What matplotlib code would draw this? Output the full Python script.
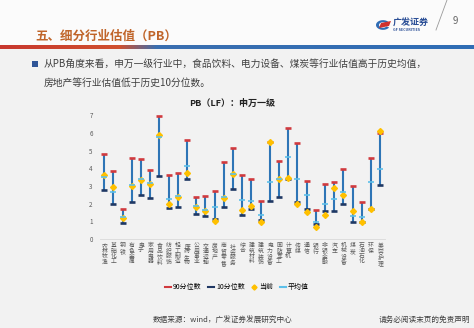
import numpy as np
import matplotlib
matplotlib.use("Agg")
import matplotlib.pyplot as plt
from matplotlib.lines import Line2D
from matplotlib.patches import Rectangle, Wedge, Polygon

plt.rcParams['font.family'] = ['Noto Sans CJK SC', 'DejaVu Sans']

# Shenwan level-1 industries, PB (LF)
industries = ["农林牧渔", "基础化工", "钢铁", "有色金属", "电子", "家用电器", "食品饮料",
              "纺织服饰", "轻工制造", "医药生物", "公用事业", "交通运输", "房地产", "商贸零售",
              "社会服务", "综合", "建筑材料", "建筑装饰", "电力设备", "国防军工", "计算机",
              "传媒", "通信", "银行", "非银金融", "汽车", "机械设备", "煤炭", "石油石化",
              "环保", "美容护理"]
p90 = [4.78, 3.86, 1.71, 4.56, 4.54, 3.90, 6.97, 3.60, 3.75, 5.61, 2.36, 2.43, 2.71, 4.33,
       5.16, 3.60, 3.37, 2.16, 5.50, 4.39, 6.25, 5.41, 3.26, 1.66, 3.11, 3.22, 3.95, 2.98,
       2.11, 4.56, 6.00]
p10 = [2.77, 2.00, 0.89, 2.07, 2.50, 2.33, 3.56, 1.73, 1.79, 3.37, 1.43, 1.32, 1.13, 1.83,
       2.84, 1.36, 1.71, 1.05, 2.16, 2.39, 3.41, 2.07, 1.69, 0.85, 1.60, 1.58, 2.00, 0.96,
       0.98, 1.72, 3.07]
current = [3.60, 2.94, 1.19, 3.01, 3.33, 3.10, 5.85, 1.98, 2.37, 3.75, 1.83, 1.60, 1.00, 2.30,
           3.67, 1.66, 1.86, 0.98, 5.50, 3.41, 3.45, 1.96, 1.51, 0.66, 1.36, 2.86, 2.50, 1.58,
           0.94, 1.69, 6.12]
mean = [3.52, 2.66, 1.22, 3.05, 3.41, 3.14, 5.78, 2.26, 2.43, 4.14, 1.86, 1.63, 1.83, 2.40,
        3.67, 2.20, 2.15, 1.36, 3.24, 3.40, 4.65, 3.41, 2.50, 0.94, 2.00, 2.28, 2.66, 1.30,
        1.26, 3.24, 3.95]
yticks = [0, 1, 2, 3, 4, 5, 6, 7]

W, H = 474, 328
BG = "#F2F2F2"
RED = "#D03A3E"
NAVY = "#1F3864"
BAR = "#2E75B6"
GOLD = "#FFC000"
LIGHT = "#5DC0EA"


def fx(px):
    return px / W


def fy(py):
    return 1 - py / H


fig = plt.figure(figsize=(W / 100, H / 100), dpi=100, facecolor=BG)

# header band
fig.patches.append(Rectangle((0, fy(45)), 1, 45 / H, transform=fig.transFigure,
                             facecolor="#FBFBFB", edgecolor="none", zorder=0))
grad = fig.add_axes([0, fy(49), 1, 4 / H])
cm = matplotlib.colors.LinearSegmentedColormap.from_list(
    "band", [(0, "#C8382E"), (0.25, "#D0502E"), (0.33, "#3A6FB0"), (1, "#2F6DB5")])
grad.imshow(np.linspace(0, 1, 400).reshape(1, -1), aspect="auto", cmap=cm)
grad.axis("off")

fig.text(fx(35), fy(36), "五、细分行业估值（PB）", fontsize=9, color="#C0652A",
         fontweight="bold", va="center", ha="left")
fig.text(fx(455), fy(21), "9", fontsize=7, color="#666666", va="center", ha="center")
fig.lines.append(Line2D([fx(436), fx(447)], [fy(30), fy(0)], transform=fig.transFigure,
                        color="#9A9A9A", lw=0.6))

# company logo
fig.patches.append(Wedge((fx(383), fy(25)), 7 / W, 40, 330, width=3 / W,
                         transform=fig.transFigure, facecolor="#2F6DB5", edgecolor="none"))
fig.patches.append(Polygon([(fx(381), fy(23)), (fx(391), fy(21)), (fx(389), fy(26)),
                            (fx(379), fy(28))], closed=True, transform=fig.transFigure,
                           facecolor="#D0322E", edgecolor="none"))
fig.text(fx(393), fy(22), "广发证券", fontsize=6.5, color="#2A4E96", fontweight="bold",
         va="center", ha="left")
fig.text(fx(393), fy(30), "GF SECURITIES", fontsize=2.6, color="#2A4E96",
         fontweight="bold", va="center", ha="left")

# bullet text
fig.patches.append(Rectangle((fx(32), fy(67)), 6 / W, 6 / H, transform=fig.transFigure,
                             facecolor="#2F5597", edgecolor="none"))
fig.text(fx(44), fy(64), "从PB角度来看，申万一级行业中，食品饮料、电力设备、煤炭等行业估值高于历史均值，",
         fontsize=7, color="#404040", va="center", ha="left")
fig.text(fx(44), fy(83), "房地产等行业估值低于历史10分位数。",
         fontsize=7, color="#404040", va="center", ha="left")

fig.text(fx(232), fy(103), "PB（LF）：申万一级", fontsize=6.5, color="#222222",
         fontweight="bold", va="center", ha="center")

# main chart
ax = fig.add_axes([0.2103, 0.2713, 0.6017, 0.3885])
ax.set_facecolor(BG)
x = np.arange(len(industries))
ax.vlines(x, p10, p90, color=BAR, lw=1.5, zorder=2)
ax.plot(x, p90, ls="none", marker="_", ms=5, mew=1.9, color=RED, zorder=3)
ax.plot(x, p10, ls="none", marker="_", ms=5, mew=1.9, color=NAVY, zorder=3)
ax.plot(x, current, ls="none", marker="D", ms=3.0, color=GOLD, zorder=4)
ax.plot(x, mean, ls="none", marker="_", ms=3.8, mew=1.2, color=LIGHT, zorder=5)

ax.set_xlim(-0.5, len(industries) - 0.5)
ax.set_ylim(0, 7.2)
ax.set_yticks(yticks)
ax.set_yticklabels([str(v) for v in yticks], fontsize=4.5, color="#595959")
ax.set_xticks(x)
ax.set_xticklabels(["\n".join(name) for name in industries], fontsize=4.2,
                   color="#595959", va="top", linespacing=1.05)
ax.tick_params(axis="both", length=0, pad=3)
ax.tick_params(axis="y", pad=5)
for side in ["top", "right", "left"]:
    ax.spines[side].set_visible(False)
ax.spines["bottom"].set_color("#D9D9D9")
ax.spines["bottom"].set_linewidth(0.6)

handles = [
    Line2D([], [], color=RED, lw=1.5),
    Line2D([], [], color=NAVY, lw=1.5),
    Line2D([], [], ls="none", marker="D", ms=2.6, color=GOLD),
    Line2D([], [], color=LIGHT, lw=1.5),
]
fig.legend(handles, ["90分位数", "10分位数", "当前", "平均值"], loc="center",
           bbox_to_anchor=(fx(237), fy(287)), ncol=4, frameon=False, fontsize=5,
           handlelength=0.8, handletextpad=0.3, columnspacing=1.0)

fig.text(fx(223), fy(321), "数据来源：wind，广发证券发展研究中心", fontsize=5.5,
         color="#404040", va="center", ha="center")
fig.text(fx(424), fy(320), "请务必阅读末页的免责声明", fontsize=5.5,
         color="#404040", va="center", ha="center")

fig.savefig("out.png", dpi=100, facecolor=BG)
